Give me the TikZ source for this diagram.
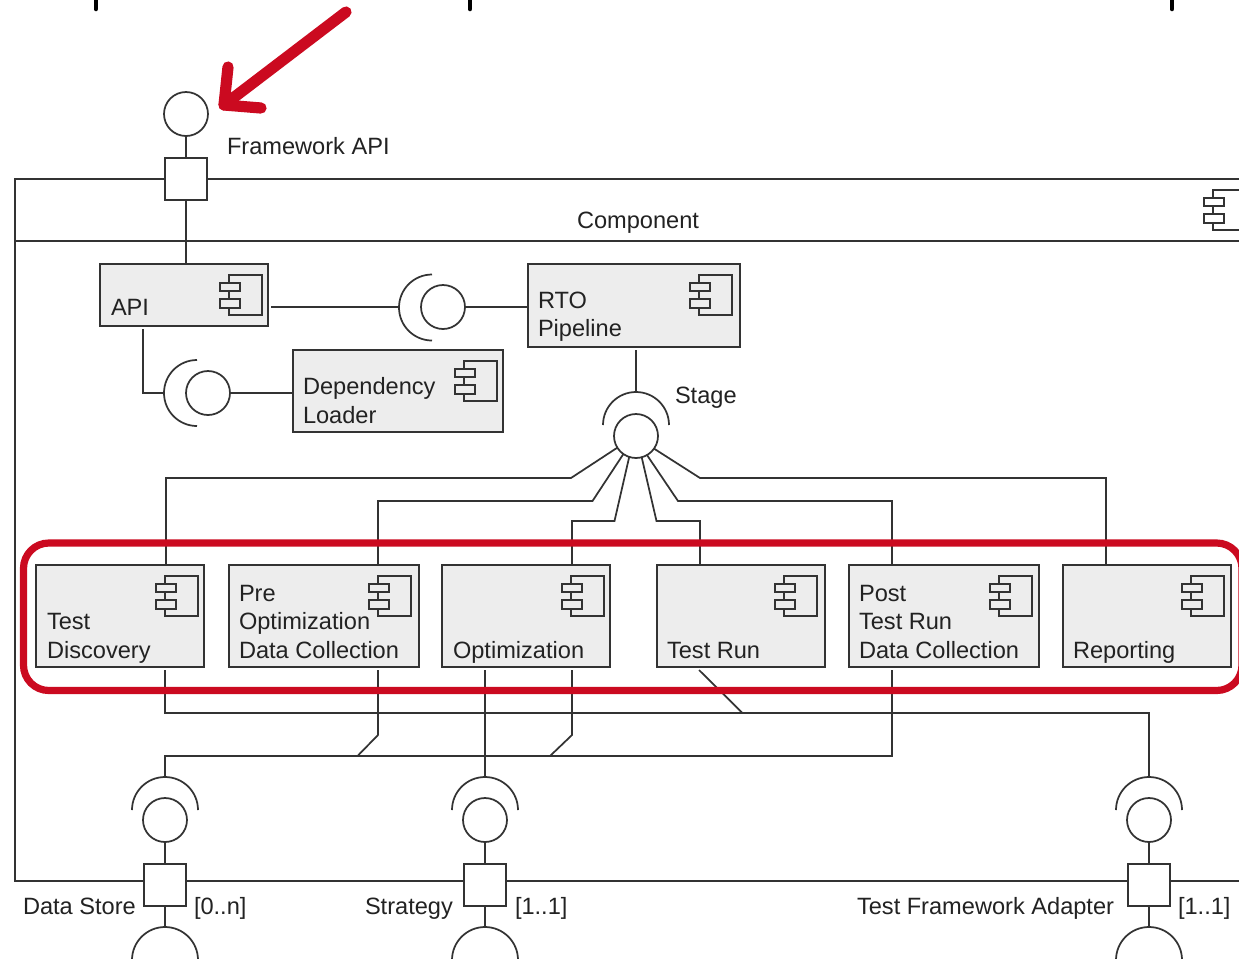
\documentclass[tikz,border=0pt]{standalone}
\usepackage{fontspec}
\setmainfont{Liberation Sans}
\definecolor{ln}{HTML}{333333}
\definecolor{tx}{HTML}{222222}
\definecolor{boxg}{HTML}{EDEDED}
\definecolor{redm}{HTML}{CB0A20}
\tikzset{
  wire/.style={draw=ln,line width=1.3pt,line join=miter},
  compbox/.style={rectangle,draw=ln,line width=1.3pt,fill=boxg,inner sep=0pt,outer sep=0pt},
  portbox/.style={rectangle,draw=ln,line width=1.3pt,fill=white,inner sep=0pt,outer sep=0pt,minimum width=32pt,minimum height=32pt},
  lolli/.style={circle,draw=ln,line width=1.3pt,fill=white,inner sep=0pt,outer sep=0pt,minimum size=33pt},
  lab/.style={anchor=base west,inner sep=0pt,outer sep=0pt,text=tx,font=\fontsize{17.7}{21.4}\selectfont,align=left},
  redline/.style={draw=redm,line cap=round,line join=round},
  tickmark/.style={line width=3.4pt,black,line cap=round}
}
% icon: #1 = right edge of main rect, #2 = top of main rect, #3 = small rect fill
\newcommand{\compicon}[3]{%
  \draw[wire] (#1-33,#2) rectangle (#1,#2+40);
  \draw[wire,fill=#3] (#1-42,#2+8) rectangle (#1-22,#2+16);
  \draw[wire,fill=#3] (#1-42,#2+24) rectangle (#1-22,#2+33);
}
\newcommand{\cbox}[6]{% name, x1, y1, x2, y2, icon right edge
  \node[compbox,minimum width={(#4-#2)*0.75pt},minimum height={(#5-#3)*0.75pt}] (#1) at ({(#2+#4)/2},{(#3+#5)/2}) {};
  \compicon{#6}{#3+11}{boxg}
}
\begin{document}
\begin{tikzpicture}[x=0.75pt,y=-0.75pt]
\useasboundingbox (0,0) rectangle (1239,958);
\clip (0,0) rectangle (1239,958);
\fill[white] (0,0) rectangle (1239,958);

% top ticks
\draw[tickmark] (96,-5) -- (96,9);
\draw[tickmark] (470,-5) -- (470,9);
\draw[tickmark] (1172,-5) -- (1172,9);

% outer component frame
\draw[wire] (1250,179) -- (15,179) -- (15,881) -- (1250,881);
\draw[wire] (15,241) -- (1250,241);
\compicon{1246}{190}{white}
\node[lab] (tcomp) at (577,228) {Component};

% boxes
\cbox{api}{100}{264}{268}{326}{262}
\cbox{rto}{528}{264}{740}{347}{732}
\cbox{dep}{293}{350}{503}{432}{497}
\cbox{td}{36}{565}{204}{667}{198}
\cbox{pre}{229}{565}{419}{667}{411}
\cbox{opt}{442}{565}{610}{667}{604}
\cbox{run}{657}{565}{825}{667}{817}
\cbox{post}{849}{565}{1039}{667}{1032}
\cbox{rep}{1063}{565}{1231}{667}{1224}

% labels
\node[lab] (tapi) at (111,315) {API};
\node[lab] (trto1) at (538,308) {RTO};
\node[lab] (trto2) at (538,336) {Pipeline};
\node[lab] (tdep1) at (303,394) {Dependency};
\node[lab] (tdep2) at (303,423) {Loader};
\node[lab] (tstage) at (675,403) {Stage};
\node[lab] (tfw) at (227,154) {Framework API};
\node[lab] (ttd1) at (47,629) {Test};
\node[lab] (ttd2) at (47,658) {Discovery};
\node[lab] (tpre1) at (239,601) {Pre};
\node[lab] (tpre2) at (239,629) {Optimization};
\node[lab] (tpre3) at (239,658) {Data Collection};
\node[lab] (topt) at (453,658) {Optimization};
\node[lab] (trun) at (667,658) {Test Run};
\node[lab] (tpost1) at (859,601) {Post};
\node[lab] (tpost2) at (859,629) {Test Run};
\node[lab] (tpost3) at (859,658) {Data Collection};
\node[lab] (trep) at (1073,658) {Reporting};
\node[lab] (tds) at (23,914) {Data Store};
\node[lab] (tdsm) at (194,914) {[0..n]};
\node[lab] (tst) at (365,914) {Strategy};
\node[lab] (tstm) at (515,914) {[1..1]};
\node[lab] (tad) at (857,914) {Test Framework Adapter};
\node[lab] (tadm) at (1178,914) {[1..1]};

% framework API port
\node[lolli] (fwc) at (186,114) {};
\node[portbox,minimum width=31.5pt,minimum height=31.5pt] (fwp) at (186,179) {};
\draw[wire] (fwc.south) -- (fwp.north);
\coordinate (apit) at (186,264);
\draw[wire] (fwp.south) -- (apit);

% API - RTO socket
\node[lolli] (s1) at (443,307) {};
\coordinate (apir) at (271,307);
\coordinate (s1a) at (400,307);
\coordinate (rtol) at (528,307);
\draw[wire] (apir) -- (s1a);
\draw[wire] (432,274.5) arc[start angle=-90,end angle=-270,radius=33];
\draw[wire] (s1.east) -- (rtol);

% API - Dependency socket
\node[lolli] (s2) at (208,393) {};
\coordinate (apib) at (143,329);
\coordinate (s2a) at (165,393);
\coordinate (depl) at (293,393);
\draw[wire] (apib) |- (s2a);
\draw[wire] (197,360) arc[start angle=-90,end angle=-270,radius=33];
\draw[wire] (s2.east) -- (depl);

% Stage hub
\node[lolli] (hub) at (636,436) {};
\coordinate (rtob) at (636,350);
\coordinate (huba) at (636,392);
\draw[wire] (rtob) -- (huba);
\draw[wire] (603,425) arc[start angle=180,end angle=360,radius=33];
\coordinate (tdt) at (166,565);
\coordinate (pret) at (378,565);
\coordinate (optt) at (572,565);
\coordinate (runt) at (700,565);
\coordinate (postt) at (892,565);
\coordinate (rept) at (1106,565);
\draw[wire] (hub.212) -- (571,478) -- (166,478) -- (tdt);
\draw[wire] (hub.235) -- (592.5,501) -- (378,501) -- (pret);
\draw[wire] (hub.252) -- (614.5,521) -- (572,521) -- (optt);
\draw[wire] (hub.285) -- (656.5,521) -- (700,521) -- (runt);
\draw[wire] (hub.300) -- (678,501) -- (892,501) -- (postt);
\draw[wire] (hub.325) -- (700,478) -- (1106,478) -- (rept);

% lower sockets
\foreach \nm/\xc in {a/165,b/485,c/1149}{
  \node[lolli] (l\nm) at (\xc,820) {};
  \node[portbox] (p\nm) at (\xc,885) {};
  \coordinate (u\nm) at (\xc,777);
  \coordinate (d\nm) at (\xc,927);
  \draw[wire] (\xc-33,810) arc[start angle=180,end angle=360,radius=33];
  \draw[wire] (\xc-33,960) arc[start angle=180,end angle=360,radius=33];
  \draw[wire] (l\nm.south) -- (p\nm.north);
  \draw[wire] (p\nm.south) -- (d\nm);
}

% lower wiring
\coordinate (tdb) at (165,670);
\coordinate (preb) at (378,670);
\coordinate (optb1) at (485,670);
\coordinate (optb2) at (572,670);
\coordinate (runb) at (699,670);
\coordinate (postb) at (892,670);
\draw[wire] (tdb) -- (165,713) -- (1149,713) -- (uc);
\draw[wire] (runb) -- (742.5,713);
\draw[wire] (ua) -- (165,756) -- (892,756) -- (postb);
\draw[wire] (preb) -- (378,735) -- (357.5,756);
\draw[wire] (optb2) -- (572,735) -- (550,756);
\draw[wire] (optb1) -- (ub);

% red highlight
\draw[redm,line width=5.4pt,rounded corners=19pt] (23.5,543) rectangle (1242,690.5);
\coordinate (arrtail) at (346,12);
\coordinate (arrtip) at (224,105);
\draw[redline,line width=8.4pt] (arrtail) -- (arrtip);
\draw[redline,line width=8.4pt] (228,67) -- (arrtip) -- (261,108);
\end{tikzpicture}
\end{document}
